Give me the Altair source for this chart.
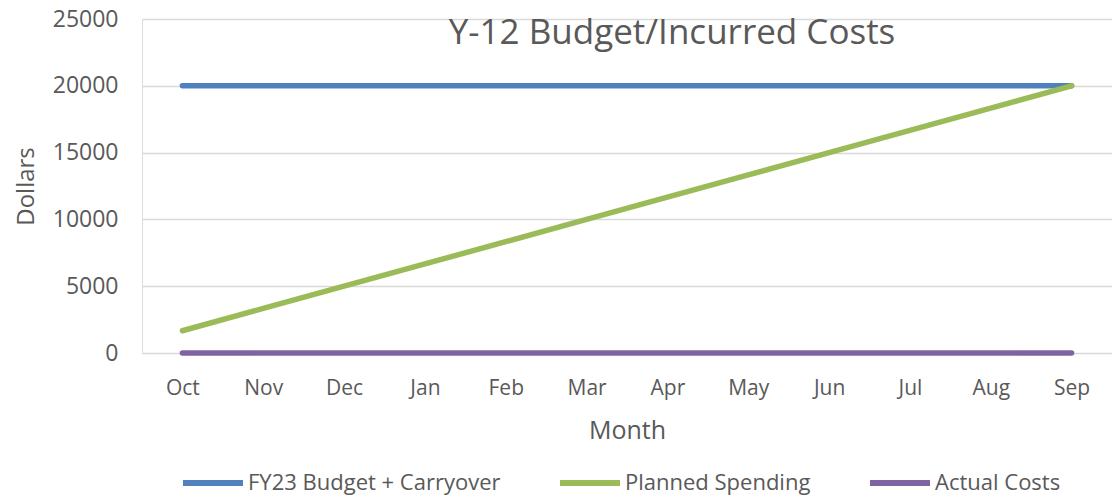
import altair as alt
import pandas as pd

months = ["Oct", "Nov", "Dec", "Jan", "Feb", "Mar", "Apr", "May", "Jun", "Jul", "Aug", "Sep"]
series_names = ["FY23 Budget + Carryover", "Planned Spending", "Actual Costs"]
budget = [20000, 20000, 20000, 20000, 20000, 20000, 20000, 20000, 20000, 20000, 20000, 20000]
planned = [1667, 3333, 5000, 6667, 8333, 10000, 11667, 13333, 15000, 16667, 18333, 20000]
actual = [0, 0, 0, 0, 0, 0, 0, 0, 0, 0, 0, 0]
colors = ["#4F81BD", "#9BBB59", "#8064A2"]
title_text = "Y-12 Budget/Incurred Costs"

rows = []
for name, vals in zip(series_names, [budget, planned, actual]):
    for i, (m, v) in enumerate(zip(months, vals)):
        rows.append({"Month": m, "Dollars": v, "Series": name, "order": series_names.index(name)})
df = pd.DataFrame(rows)

FONT = "Open Sans"
GREY = "#595959"

lines = alt.Chart(df).mark_line(strokeWidth=5.5, strokeCap="round").encode(
    x=alt.X("Month:N", sort=months,
            scale=alt.Scale(type="point", padding=0.5),
            axis=alt.Axis(title="Month", labelAngle=0, ticks=False, domain=False, grid=False,
                          labelFont=FONT, labelFontSize=21, labelColor=GREY, labelPadding=24,
                          titleFont=FONT, titleFontSize=25, titleFontWeight="normal",
                          titleColor=GREY, titlePadding=20)),
    y=alt.Y("Dollars:Q",
            scale=alt.Scale(domain=[0, 25000], nice=False),
            axis=alt.Axis(title="Dollars", values=[0, 5000, 10000, 15000, 20000, 25000],
                          format="d", ticks=False, domain=False, grid=True,
                          gridColor="#D9D9D9", gridWidth=1.3,
                          labelFont=FONT, labelFontSize=23, labelColor=GREY, labelPadding=24,
                          titleFont=FONT, titleFontSize=24, titleFontWeight="normal",
                          titleColor=GREY, titlePadding=14)),
    color=alt.Color("Series:N",
                    scale=alt.Scale(domain=series_names, range=colors),
                    legend=alt.Legend(title=None, orient="none", legendX=38, legendY=431,
                                      direction="horizontal", symbolType="stroke",
                                      symbolSize=3600, symbolStrokeWidth=6,
                                      labelFont=FONT, labelFontSize=22, labelColor=GREY,
                                      labelLimit=500, gridAlign="none",
                                      labelOffset=2, columnPadding=47)),
    detail="Series:N",
    order="order:Q",
)

title_layer = alt.Chart(pd.DataFrame({"t": [title_text]})).mark_text(
    font=FONT, fontSize=35, color=GREY, align="center", baseline="middle"
).encode(text="t:N", x=alt.value(530), y=alt.value(14))

chart = alt.layer(lines, title_layer).properties(
    width=970, height=334,
    autosize=alt.AutoSizeParams(type="none"),
    padding={"left": 142, "top": 19, "right": 0, "bottom": 143},
).configure_view(stroke=None).configure(background="white")

chart.save("out.html", embed_options={"renderer": "svg", "actions": False})
